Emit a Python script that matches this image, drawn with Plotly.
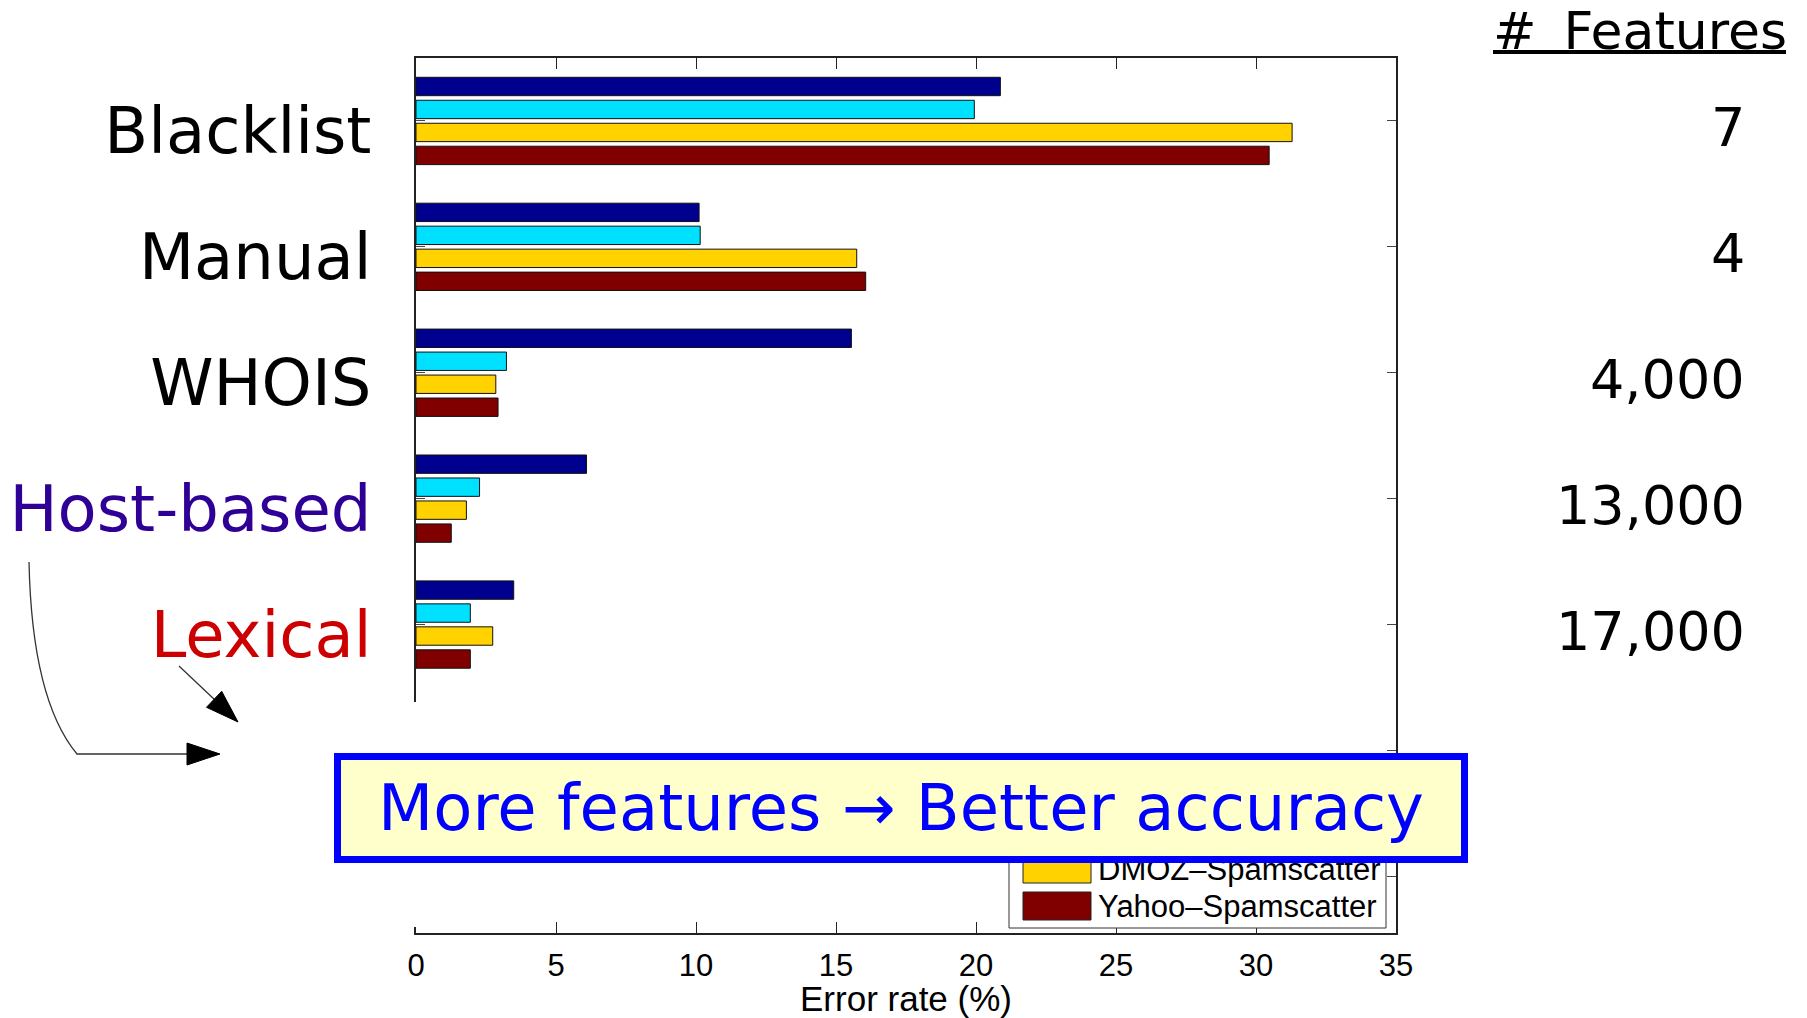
import plotly.graph_objects as go

# ---------------- data ----------------
categories = ["Blacklist", "Manual", "WHOIS", "Host-based", "Lexical"]
category_colors = ["#000000", "#000000", "#000000", "#2F0096", "#CC0000"]
feature_counts = ["7", "4", "4,000", "13,000", "17,000"]
series_names = ["DMOZ–PhishTank", "Yahoo–PhishTank", "DMOZ–Spamscatter", "Yahoo–Spamscatter"]
series_colors = ["#00008F", "#00E1FF", "#FFD200", "#800000"]
dmoz_phishtank = [20.87, 10.11, 15.55, 6.09, 3.49]
yahoo_phishtank = [19.94, 10.15, 3.23, 2.27, 1.94]
dmoz_spamscatter = [31.29, 15.74, 2.85, 1.80, 2.74]
yahoo_spamscatter = [30.47, 16.06, 2.93, 1.26, 1.94]
series_values = [dmoz_phishtank, yahoo_phishtank, dmoz_spamscatter, yahoo_spamscatter]
x_ticks = [0, 5, 10, 15, 20, 25, 30, 35]
callout = "More features → Better accuracy"

# ---------------- geometry helpers (layout only, screen pixels) ----------------
W, H = 1807, 1018
OFF = 8  # default page body margin
L, R, T, B = 416, 1396, 58, 933


def px(x):
    return (x - L) / (R - L)


def py(y):
    return (B - y) / (B - T)


ypos = list(range(1, len(categories) + 1))

fig = go.Figure()
for name, color, vals in zip(series_names, series_colors, series_values):
    fig.add_trace(go.Bar(
        y=ypos, x=vals, name=name, orientation="h",
        marker=dict(color=color, line=dict(color="#111111", width=1)),
        showlegend=False,
    ))

ticktext = [f'<span style="color:{c}">{t}</span>' for t, c in zip(categories, category_colors)] + ["", ""]

FW, FH = W - OFF, H - OFF
fig.update_layout(
    width=FW, height=FH,
    margin=dict(l=L - OFF, r=FW - (R - OFF), t=T - OFF, b=FH - (B - OFF), pad=0, autoexpand=False),
    paper_bgcolor="white", plot_bgcolor="white",
    barmode="group", bargap=0.27, bargroupgap=0.2,
    xaxis=dict(
        range=[0, 35], tickvals=x_ticks, ticks="inside", ticklen=11, tickwidth=1.2,
        tickcolor="#222", showline=True, linecolor="#222", linewidth=1.5, mirror="ticks",
        showgrid=False, zeroline=False, automargin=False, ticklabelstandoff=4,
        tickfont=dict(family="Liberation Sans, Arial", size=31, color="black"),
        title=dict(text="Error rate (%)", font=dict(family="Liberation Sans, Arial", size=35, color="black"), standoff=3),
    ),
    yaxis=dict(
        range=[7.45, 0.5], tickvals=list(range(1, 8)), ticktext=ticktext,
        ticks="inside", ticklen=9, tickwidth=1.2, tickcolor="#444",
        showline=True, linecolor="#222", linewidth=1.5, mirror="ticks",
        showgrid=False, zeroline=False, automargin=False,
        tickfont=dict(family="DejaVu Sans, Verdana", size=64, color="black"),
        ticklabelstandoff=30, ticklabelshift=-10,
    ),
)

shapes = []
annotations = []

# white overlay hiding part of the left axis
shapes.append(dict(type="rect", xref="paper", yref="paper", layer="above",
                   x0=px(395), x1=px(425), y0=py(927), y1=py(702),
                   fillcolor="white", line=dict(width=0)))

# legend (manual, larger swatches)
leg_top, leg_bot = 772, 928
shapes.append(dict(type="rect", xref="paper", yref="paper", layer="above",
                   x0=px(1009), x1=px(1386), y0=py(leg_bot), y1=py(leg_top),
                   fillcolor="white", line=dict(color="#333", width=1)))
for i, (name, color) in enumerate(zip(series_names, series_colors)):
    cy = 795 + 37 * i
    shapes.append(dict(type="rect", xref="paper", yref="paper", layer="above",
                       x0=px(1023), x1=px(1091), y0=py(cy + 14), y1=py(cy - 14),
                       fillcolor=color, line=dict(color="#222", width=1)))
    annotations.append(dict(xref="paper", yref="paper", x=px(1096), y=py(cy),
                            xanchor="left", yanchor="middle", text=name, showarrow=False,
                            font=dict(family="Liberation Sans, Arial", size=31, color="black")))

# feature counts column
annotations.append(dict(xref="paper", yref="paper", x=px(1788), y=py(0),
                        xanchor="right", yanchor="top", borderpad=0, text="#\u00a0\u2009Features", showarrow=False,
                        font=dict(family="DejaVu Sans, Verdana", size=52, color="black")))
shapes.append(dict(type="line", xref="paper", yref="paper", layer="above",
                   x0=px(1493), x1=px(1786), y0=py(52), y1=py(52),
                   line=dict(color="black", width=4)))
for i, n in enumerate(feature_counts):
    annotations.append(dict(xref="paper", yref="y", x=px(1747), y=ypos[i],
                            xanchor="right", yanchor="middle", yshift=-7, text=n, showarrow=False,
                            font=dict(family="DejaVu Sans, Verdana", size=54, color="black")))

# arrows
shapes.append(dict(type="path", xref="paper", yref="paper", layer="above",
                   path=f"M {px(29)},{py(562)} C {px(31)},{py(655)} {px(47)},{py(718)} {px(77)},{py(754)} L {px(192)},{py(754)}",
                   line=dict(color="#333", width=1.3)))
shapes.append(dict(type="path", xref="paper", yref="paper", layer="above",
                   path=f"M {px(220)},{py(754)} L {px(187)},{py(743)} L {px(187)},{py(765)} Z",
                   fillcolor="black", line=dict(color="black", width=1)))
shapes.append(dict(type="line", xref="paper", yref="paper", layer="above",
                   x0=px(179), y0=py(666), x1=px(216), y1=py(701),
                   line=dict(color="#333", width=1.3)))
shapes.append(dict(type="path", xref="paper", yref="paper", layer="above",
                   path=f"M {px(238)},{py(722)} L {px(206.5)},{py(707.3)} L {px(221.7)},{py(691.3)} Z",
                   fillcolor="black", line=dict(color="black", width=1)))

# callout box (annotation so it sits above the legend texts)
annotations.append(dict(xref="paper", yref="paper", x=px(901), y=py(808),
                        xanchor="center", yanchor="middle", text=callout, showarrow=False,
                        width=1120, height=96, borderpad=0, borderwidth=7,
                        bgcolor="#FFFFCC", bordercolor="#0000FF",
                        font=dict(family="DejaVu Sans, Verdana", size=64, color="#0000FF")))

fig.update_layout(shapes=shapes, annotations=annotations)
fig.write_html("out.html")
